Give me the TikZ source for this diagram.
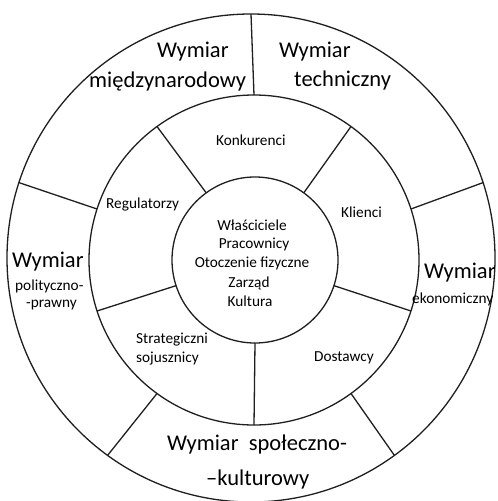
\documentclass[tikz,border=0pt]{standalone}
\usepackage{fontspec}
\setmainfont{Carlito}
\begin{document}
\begin{tikzpicture}[x=1pt,y=-1pt,
  ring/.style={circle,draw=black!88,line width=1.3pt,inner sep=0pt,outer sep=0pt},
  divider/.style={draw=black!88,line width=1.3pt},
  big/.style={font=\fontsize{22.5}{26}\selectfont,inner sep=0pt,anchor=base west},
  small/.style={font=\fontsize{15.3}{18}\selectfont,inner sep=0pt,anchor=base west},
  mid/.style={font=\fontsize{15.3}{18}\selectfont,inner sep=0pt,anchor=base}]
\useasboundingbox (0,0) rectangle (498,501);
\clip (0,0) rectangle (498,501);
\fill[white] (0,0) rectangle (498,501);
% rings
\node[ring,minimum size=488pt] (outer) at (251,258) {};
\node[ring,minimum size=330pt] (middle) at (254,260) {};
\node[ring,minimum size=166pt] (inner) at (255,260) {};
% dividers
\foreach \a in {90,162,234,306,18}
  \draw[divider] (middle.\a) -- (outer.\a);
\foreach \a in {54,126,198,270,342}
  \draw[divider] (inner.\a) -- (middle.\a);
% outer ring texts
\node[big] (tl1) at (157,57) {Wymiar};
\node[big] (tl2) at (89,87) {międzynarodowy};
\node[big] (tr1) at (279,57) {Wymiar};
\node[big] (tr2) at (294,86) {techniczny};
\node[big] (l1) at (12,267) {Wymiar};
\node[small] (l2) at (15,290) {polityczno-};
\node[small] (l3) at (26,307) {-prawny};
\node[big] (r1) at (424,278) {Wymiar};
\node[small] (r2) at (412,303) {ekonomiczny};
\node[big] (b1) at (167,450) {Wymiar\ \ społeczno-};
\node[big] (b2) at (206,485) {–kulturowy};
% middle ring texts
\node[small] (konk) at (216,145) {Konkurenci};
\node[small] (reg) at (106,208) {Regulatorzy};
\node[small] (kli) at (341,217) {Klienci};
\node[small] (str1) at (136,343) {Strategiczni};
\node[small] (str2) at (136,362) {sojusznicy};
\node[small] (dos) at (314,361) {Dostawcy};
% centre texts
\node[mid] (c1) at (252,230) {Właściciele};
\node[mid] (c2) at (254,248) {Pracownicy};
\node[mid] (c3) at (252,267) {Otoczenie fizyczne};
\node[mid] (c4) at (249,287) {Zarząd};
\node[mid] (c5) at (250,306) {Kultura};
\end{tikzpicture}
\end{document}
